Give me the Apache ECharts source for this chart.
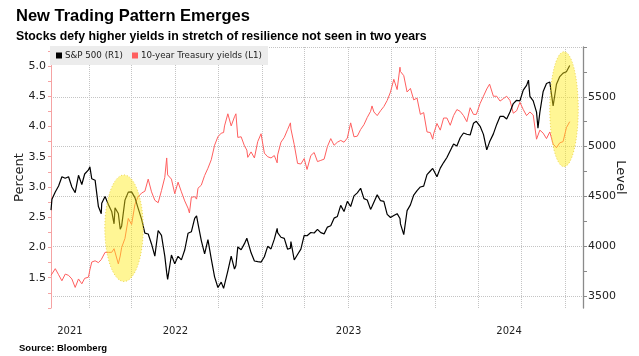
<!DOCTYPE html>
<html><head><meta charset="utf-8">
<script src="https://cdn.jsdelivr.net/npm/echarts@6/dist/echarts.min.js"></script>
<style>html,body{margin:0;padding:0;background:#fff}#c{width:639px;height:356px}</style>
</head><body><div id="c"></div>
<script>
const dates = ['2021-10-13','2021-10-15','2021-10-22','2021-10-29','2021-11-05','2021-11-12','2021-11-19','2021-11-26','2021-12-03','2021-12-10','2021-12-17','2021-12-23','2021-12-31',
'2022-01-03','2022-01-07','2022-01-14','2022-01-21','2022-01-27','2022-01-28','2022-02-04','2022-02-11','2022-02-18','2022-02-23','2022-02-25','2022-03-04','2022-03-08','2022-03-11','2022-03-18','2022-03-25','2022-04-01','2022-04-08','2022-04-14','2022-04-22','2022-04-29','2022-05-06','2022-05-13','2022-05-20','2022-05-27','2022-06-03','2022-06-10','2022-06-14','2022-06-16','2022-06-24','2022-07-01','2022-07-08','2022-07-15','2022-07-22','2022-07-29','2022-08-01','2022-08-05','2022-08-12','2022-08-16','2022-08-19','2022-08-26','2022-09-02','2022-09-09','2022-09-16','2022-09-23','2022-09-30','2022-10-07','2022-10-12','2022-10-14','2022-10-21','2022-10-28','2022-11-04','2022-11-07','2022-11-11','2022-11-18','2022-11-25','2022-11-30','2022-12-02','2022-12-09','2022-12-16','2022-12-23','2022-12-30',
'2023-01-06','2023-01-13','2023-01-20','2023-01-27','2023-02-02','2023-02-03','2023-02-10','2023-02-17','2023-02-24','2023-03-02','2023-03-03','2023-03-10','2023-03-17','2023-03-24','2023-03-31','2023-04-06','2023-04-14','2023-04-21','2023-04-28','2023-05-05','2023-05-12','2023-05-19','2023-05-26','2023-06-02','2023-06-09','2023-06-16','2023-06-23','2023-06-30','2023-07-07','2023-07-14','2023-07-21','2023-07-28','2023-07-31','2023-08-04','2023-08-11','2023-08-18','2023-08-21','2023-08-25','2023-09-01','2023-09-08','2023-09-15','2023-09-22','2023-09-29','2023-10-06','2023-10-13','2023-10-19','2023-10-20','2023-10-27','2023-11-03','2023-11-10','2023-11-17','2023-11-24','2023-12-01','2023-12-08','2023-12-15','2023-12-22','2023-12-27','2023-12-29',
'2024-01-05','2024-01-12','2024-01-19','2024-01-26','2024-02-02','2024-02-09','2024-02-16','2024-02-23','2024-03-01','2024-03-08','2024-03-15','2024-03-22','2024-03-28','2024-04-05','2024-04-12','2024-04-19','2024-04-25','2024-05-03','2024-05-10','2024-05-17','2024-05-24','2024-05-31','2024-06-07','2024-06-14','2024-06-21','2024-06-28','2024-07-05','2024-07-12','2024-07-16','2024-07-19','2024-07-26','2024-08-02','2024-08-05','2024-08-09','2024-08-16','2024-08-23','2024-08-30','2024-09-06','2024-09-13','2024-09-16','2024-09-20','2024-09-27','2024-10-04','2024-10-11'];

const spx = [4363,4471,4545,4605,4697,4683,4698,4595,4538,4712,4620,4725,4766,
4797,4677,4663,4398,4326,4432,4500,4419,4349,4225,4385,4329,4170,4204,4463,4543,4546,4488,4393,4272,4132,4123,4023,3901,4158,4109,3901,3735,3667,3912,3825,3899,3863,3962,4130,4119,4145,4280,4305,4228,4057,3924,4067,3873,3693,3586,3640,3577,3583,3752,3901,3771,3807,3993,3965,4026,4080,4072,3934,3852,3845,3840,
3895,3999,3973,4071,4179,4136,4090,4079,3970,3981,4046,3862,3917,3971,4109,4105,4138,4133,4169,4136,4124,4192,4205,4282,4299,4410,4348,4450,4399,4505,4536,4582,4589,4478,4464,4370,4400,4406,4516,4457,4450,4320,4288,4308,4327,4278,4224,4117,4358,4415,4514,4559,4595,4604,4719,4755,4781,4770,
4697,4784,4840,4891,4959,5027,5006,5089,5137,5124,5117,5234,5254,5204,5123,4967,5048,5128,5223,5303,5305,5278,5347,5432,5465,5460,5567,5615,5667,5505,5459,5346,5186,5344,5554,5634,5648,5408,5626,5633,5703,5738,5751,5815];

const yields = [1.54,1.57,1.65,1.55,1.45,1.56,1.54,1.48,1.34,1.48,1.40,1.49,1.51,
1.63,1.76,1.78,1.75,1.80,1.77,1.92,1.92,1.92,1.98,1.97,1.73,1.86,2.00,2.15,2.48,2.38,2.71,2.83,2.90,2.93,3.13,2.92,2.78,2.74,2.94,3.16,3.48,3.20,3.13,2.89,3.08,2.92,2.77,2.65,2.57,2.83,2.84,2.80,2.98,3.03,3.19,3.31,3.45,3.69,3.83,3.89,3.90,4.01,4.21,4.01,4.16,4.21,3.82,3.83,3.68,3.61,3.49,3.58,3.48,3.75,3.88,
3.56,3.50,3.48,3.52,3.40,3.53,3.74,3.82,3.95,4.06,3.96,3.70,3.39,3.38,3.47,3.29,3.52,3.57,3.42,3.44,3.46,3.67,3.80,3.69,3.74,3.77,3.74,3.81,4.06,3.83,3.84,3.95,3.96,4.03,4.15,4.25,4.34,4.24,4.18,4.26,4.33,4.43,4.57,4.78,4.61,4.98,4.91,4.84,4.57,4.63,4.44,4.47,4.20,4.23,3.91,3.90,3.79,3.88,
4.05,3.94,4.14,4.14,4.02,4.18,4.28,4.25,4.18,4.08,4.31,4.20,4.20,4.38,4.50,4.62,4.70,4.50,4.50,4.42,4.46,4.50,4.43,4.22,4.26,4.40,4.28,4.18,4.16,4.24,4.19,3.79,3.78,3.94,3.89,3.80,3.91,3.71,3.65,3.62,3.73,3.75,3.98,4.08];

const seriesNames = ['S&P 500 (R1)', '10-year Treasury yields (L1)'];
const yieldLabels = [1.5, 2.0, 2.5, 3.0, 3.5, 4.0, 4.5, 5.0];
const levelLabels = [3500, 4000, 4500, 5000, 5500];
const years = [2021, 2022, 2023, 2024];
const axisStart = '2021-10-13';
const axisEnd = '2024-11-08';
// highlighted episodes: centre [date, S&P level], half-width in days, half-height in index points
const highlights = [
  {date: '2022-03-16', level: 4181, halfDays: 40.5, halfLevel: 535},
  {date: '2024-09-29', level: 5376, halfDays: 30, halfLevel: 577}
];

const xMin = Date.parse(axisStart), xMax = Date.parse(axisEnd);
const quarterStarts = [];
years.forEach(y => [0,3,6,9].forEach(m => quarterStarts.push(Date.UTC(y, m, 1))));
const yearMids = years.map(y => {
  const a = Math.max(xMin, Date.UTC(y,0,1)), b = Math.min(xMax, Date.UTC(y+1,0,1));
  return (a + b) / 2;
});
const yieldTicks = []; for (let v = 1.0; v <= 5.3; v += 0.25) yieldTicks.push(+v.toFixed(2));
const levelTicks = []; for (let v = 3500; v <= 6000; v += 250) levelTicks.push(v);
const levelGrid = []; for (let v = 3500; v <= 6000; v += 500) levelGrid.push(v);

const F = '"DejaVu Sans", sans-serif';
const chart = echarts.init(document.getElementById('c'), null, {renderer: 'canvas'});
chart.setOption({
  animation: false,
  backgroundColor: '#ffffff',
  textStyle: {fontFamily: F},
  title: [
    {text: 'New Trading Pattern Emerges', left: 11, top: 3, textStyle: {fontFamily: '"Liberation Sans", Arial, sans-serif', fontWeight: 'bold', fontSize: 16.5, color: '#000'}},
    {text: 'Stocks defy higher yields in stretch of resilience not seen in two years', left: 11, top: 26, textStyle: {fontFamily: '"Liberation Sans", Arial, sans-serif', fontWeight: 'bold', fontSize: 12.3, color: '#000'}},
    {text: 'Source: Bloomberg', left: 14, top: 338, textStyle: {fontFamily: '"Liberation Sans", Arial, sans-serif', fontWeight: 'bold', fontSize: 9.5, color: '#000'}}
  ],
  legend: {
    left: 50, top: 46, backgroundColor: '#ececec', padding: [5, 6, 5, 6],
    itemWidth: 6, itemHeight: 6, itemGap: 9, icon: 'rect',
    textStyle: {fontFamily: F, fontSize: 8.7, color: '#222', padding: [0, 0, 0, -2]},
    data: seriesNames
  },
  grid: {left: 51, right: 56, top: 47, bottom: 48},
  xAxis: {
    type: 'value', min: xMin, max: xMax,
    axisLine: {show: false},
    axisTick: {show: false, customValues: quarterStarts},
    axisLabel: {customValues: yearMids, formatter: v => String(new Date(v).getUTCFullYear()), fontSize: 10, color: '#222', margin: 18},
    splitLine: {show: true, lineStyle: {type: 'dotted', color: '#c4c4c4', width: 1}}
  },
  yAxis: [
    {
      type: 'value', position: 'left', min: 1.0, max: 5.314,
      axisLine: {show: true, lineStyle: {color: '#f5a3a3', width: 1}},
      axisTick: {show: true, length: 3, customValues: yieldTicks, lineStyle: {color: '#f5a3a3'}},
      axisLabel: {customValues: yieldLabels, formatter: v => v.toFixed(1), fontSize: 11, color: '#222', margin: 5},
      splitLine: {show: false},
      name: 'Percent', nameLocation: 'middle', nameGap: 25, nameMoveOverlap: false,
      nameTextStyle: {fontSize: 13, color: '#222'}
    },
    {
      type: 'value', position: 'right', min: 3380, max: 6000,
      axisLine: {show: true, lineStyle: {color: '#8a8a8a', width: 1.3}},
      axisTick: {show: true, length: 4, customValues: levelTicks, lineStyle: {color: '#8a8a8a'}},
      axisLabel: {customValues: levelLabels, formatter: v => String(v), fontSize: 11, color: '#222', margin: 5},
      splitLine: {show: false},
      name: 'Level', nameLocation: 'middle', nameRotate: -90, nameGap: 31, nameMoveOverlap: false,
      nameTextStyle: {fontSize: 13, color: '#222'}
    },
    {
      type: 'value', position: 'right', min: 3380, max: 6000,
      axisLine: {show: false}, axisLabel: {show: false},
      axisTick: {show: false, customValues: levelGrid},
      splitLine: {show: true, lineStyle: {type: 'dotted', color: '#c4c4c4', width: 1}}
    }
  ],
  series: [
    {name: seriesNames[1], type: 'line', yAxisIndex: 0, showSymbol: false, symbol: 'none', z: 2,
     lineStyle: {color: '#ff5f5f', width: 1}, itemStyle: {color: '#ff5f5f'},
     data: dates.map((d, i) => [Date.parse(d), yields[i]])},
    {name: seriesNames[0], type: 'line', yAxisIndex: 1, showSymbol: false, symbol: 'none', z: 3,
     lineStyle: {color: '#000', width: 1.2}, itemStyle: {color: '#000'},
     data: dates.map((d, i) => [Date.parse(d), spx[i]])}
  ]
});

const DAY = 86400000;
const ellipses = highlights.map(h => {
  const t = Date.parse(h.date);
  const c = chart.convertToPixel({xAxisIndex: 0, yAxisIndex: 1}, [t, h.level]);
  const e = chart.convertToPixel({xAxisIndex: 0, yAxisIndex: 1}, [t + h.halfDays * DAY, h.level + h.halfLevel]);
  return {
    type: 'ellipse', z: 100,
    shape: {cx: c[0], cy: c[1], rx: Math.abs(e[0] - c[0]), ry: Math.abs(c[1] - e[1])},
    style: {fill: 'rgba(255,236,20,0.45)', stroke: 'rgba(230,205,60,0.8)', lineWidth: 1, lineDash: [1, 2]}
  };
});
chart.setOption({graphic: ellipses});
</script></body></html>
